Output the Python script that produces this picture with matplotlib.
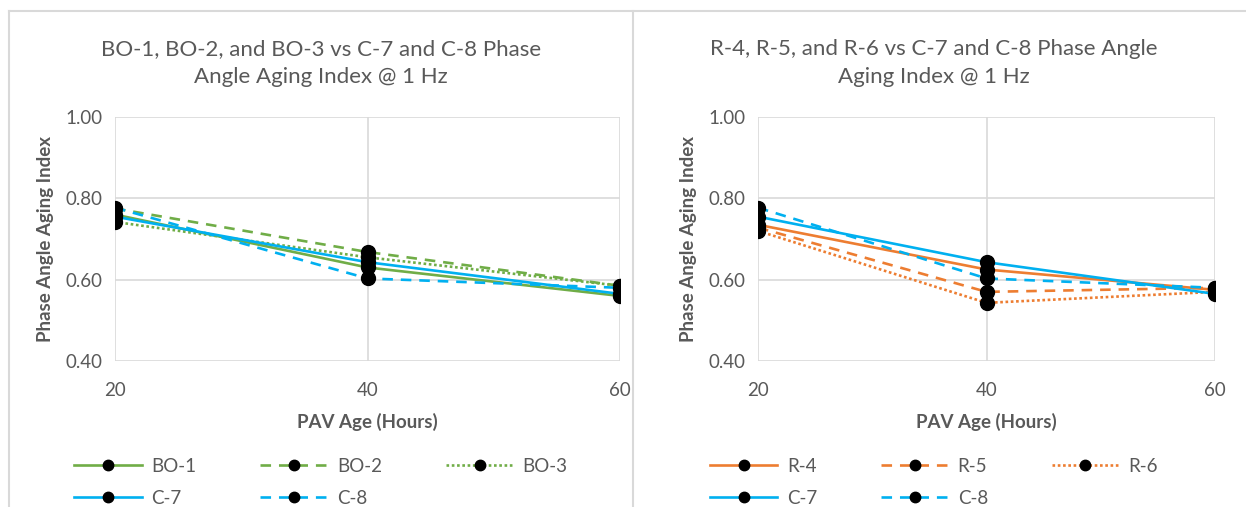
import matplotlib.pyplot as plt
from matplotlib.lines import Line2D

plt.rcParams['font.family'] = ['Lato', 'DejaVu Sans']

hours = [20, 40, 60]

# left chart
bo1 = [0.760, 0.630, 0.560]
bo2 = [0.775, 0.668, 0.585]
bo3 = [0.742, 0.655, 0.585]
# right chart
r4 = [0.735, 0.625, 0.575]
r5 = [0.728, 0.570, 0.580]
r6 = [0.720, 0.543, 0.570]
# shared controls
c7 = [0.755, 0.643, 0.565]
c8 = [0.777, 0.603, 0.580]

green = '#70AD47'
orange = '#ED7D31'
blue = '#00B0F0'
grey = '#595959'
gridc = '#D9D9D9'

fig = plt.figure(figsize=(12.46, 5.07), dpi=100)

# chart frames
for x0, y0, x1, y1 in [(9, 11, 1246, 11), (9, 11, 9, 507), (633, 11, 633, 507)]:
    fig.add_artist(Line2D([x0 / 1246, x1 / 1246], [1 - y0 / 507, 1 - y1 / 507],
                          color=gridc, lw=1.5))


def panel(rect, series, title, cx):
    ax = fig.add_axes(rect)
    for name, vals, col, ls in series:
        ax.plot(hours, vals, color=col, linestyle=ls, lw=1.9, marker='o',
                markersize=10, markerfacecolor='black', markeredgecolor='black',
                label=name, dash_capstyle='butt')
    ax.set_xlim(20, 60)
    ax.set_ylim(0.4, 1.0)
    ax.set_xticks(hours)
    ax.set_yticks([0.4, 0.6, 0.8, 1.0])
    ax.set_yticklabels(['%.2f' % v for v in [0.4, 0.6, 0.8, 1.0]])
    ax.grid(True, color=gridc, lw=1.2)
    ax.set_axisbelow(True)
    for s in ax.spines.values():
        s.set_visible(False)
    ax.tick_params(length=0, colors=grey, labelsize=13.5)
    ax.tick_params(axis='x', pad=15)
    ax.tick_params(axis='y', pad=9)
    for lab in ax.get_xticklabels() + ax.get_yticklabels():
        lab.set_clip_on(False)
    ax.set_xlabel('PAV Age (Hours)', fontsize=13.5, fontweight='bold', color=grey, labelpad=10)
    ax.set_ylabel('Phase Angle Aging Index', fontsize=13.5, fontweight='bold', color=grey, labelpad=8)
    fig.text(cx / 1246, 1 - 63 / 507, title, ha='center', va='center', fontsize=16,
             color=grey, linespacing=1.5)
    h, l = ax.get_legend_handles_labels()
    order = [0, 3, 1, 4, 2]  # row-wise fill for 3 columns
    fig.legend([h[i] for i in order], [l[i] for i in order], loc='upper center',
               bbox_to_anchor=(cx / 1246, 1 - 450 / 507), ncol=3, frameon=False,
               fontsize=13.5, labelcolor=grey, handlelength=3.6, markerscale=0.75,
               columnspacing=3.4, handletextpad=0.5, labelspacing=0.8,
               borderaxespad=0)
    return ax


panel([115 / 1246, 1 - 361 / 507, 505 / 1246, 244 / 507],
      [('BO-1', bo1, green, '-'), ('BO-2', bo2, green, (0, (4, 3))),
       ('BO-3', bo3, green, (0, (1, 1))), ('C-7', c7, blue, '-'),
       ('C-8', c8, blue, (0, (4, 3)))],
      'BO-1, BO-2, and BO-3 vs C-7 and C-8 Phase\nAngle Aging Index @ 1 Hz', 321)

panel([758 / 1246, 1 - 361 / 507, 457 / 1246, 244 / 507],
      [('R-4', r4, orange, '-'), ('R-5', r5, orange, (0, (4, 3))),
       ('R-6', r6, orange, (0, (1, 1))), ('C-7', c7, blue, '-'),
       ('C-8', c8, blue, (0, (4, 3)))],
      'R-4, R-5, and R-6 vs C-7 and C-8 Phase Angle\nAging Index @ 1 Hz', 934)

fig.savefig('out.png', dpi=100)
